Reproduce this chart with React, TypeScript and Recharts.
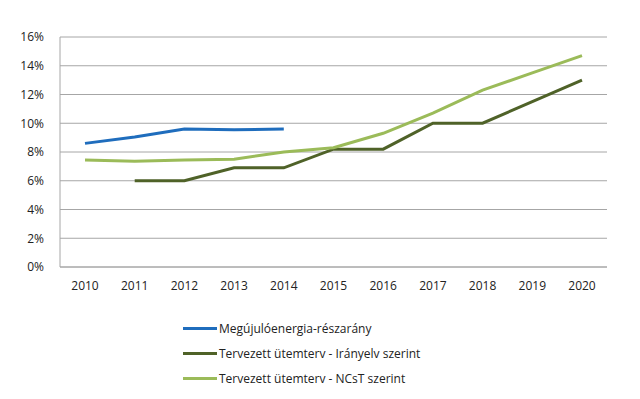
import React from "react";
import { LineChart, Line, XAxis, YAxis, CartesianGrid } from "recharts";

const years = ["2010", "2011", "2012", "2013", "2014", "2015", "2016", "2017", "2018", "2019", "2020"];
const megujulo: (number | null)[] = [8.6, 9.05, 9.6, 9.55, 9.6, null, null, null, null, null, null];
const iranyelv: (number | null)[] = [null, 6.0, 6.0, 6.9, 6.9, 8.2, 8.2, 10.0, 10.0, 11.5, 13.0];
const ncst: (number | null)[] = [7.45, 7.35, 7.45, 7.5, 8.0, 8.3, 9.3, 10.7, 12.3, 13.5, 14.7];
const yTicks = [0, 2, 4, 6, 8, 10, 12, 14, 16];

const seriesNames = [
  "Megújulóenergia-részarány",
  "Tervezett ütemterv - Irányelv szerint",
  "Tervezett ütemterv - NCsT szerint",
];
const colors = ["#1f6dbd", "#4f6228", "#9bbb59"];

const data = years.map((y, i) => ({
  year: y,
  a: megujulo[i],
  b: iranyelv[i],
  c: ncst[i],
}));

const FONT = "'Open Sans', 'Liberation Sans', sans-serif";

export default function App() {
  return (
    <div style={{ position: "fixed", left: 0, top: 0, width: 640, height: 399, background: "#fff" }}>
      <LineChart
        width={640}
        height={399}
        data={data}
        margin={{ top: 37, right: 33, bottom: 102, left: 0 }}
      >
        <CartesianGrid vertical={false} stroke="#a6a6a6" strokeWidth={1} />
        <XAxis
          dataKey="year"
          height={30}
          padding={{ left: 25, right: 25 }}
          interval={0}
          axisLine={{ stroke: "#a6a6a6" }}
          tickLine={false}
          tick={{ fill: "#222", fontSize: 12, fontFamily: FONT }}
          tickMargin={8}
        />
        <YAxis
          width={60}
          domain={[0, 16]}
          ticks={yTicks}
          interval={0}
          tickFormatter={(v: number) => `${v}%`}
          axisLine={{ stroke: "#a6a6a6" }}
          tickLine={false}
          tick={{ fill: "#222", fontSize: 12, fontFamily: FONT }}
          tickMargin={10}
        />
        <Line dataKey="a" name={seriesNames[0]} stroke={colors[0]} strokeWidth={3} dot={false} isAnimationActive={false} />
        <Line dataKey="b" name={seriesNames[1]} stroke={colors[1]} strokeWidth={3} dot={false} isAnimationActive={false} />
        <Line dataKey="c" name={seriesNames[2]} stroke={colors[2]} strokeWidth={3} dot={false} isAnimationActive={false} />
      </LineChart>
      <div style={{ position: "absolute", left: 183, top: 316, fontFamily: FONT, fontSize: 12, color: "#222" }}>
        {seriesNames.map((n, i) => (
          <div key={n} style={{ display: "flex", alignItems: "center", height: 25 }}>
            <div style={{ width: 34, height: 3, background: colors[i], marginRight: 2 }} />
            <span>{n}</span>
          </div>
        ))}
      </div>
    </div>
  );
}
